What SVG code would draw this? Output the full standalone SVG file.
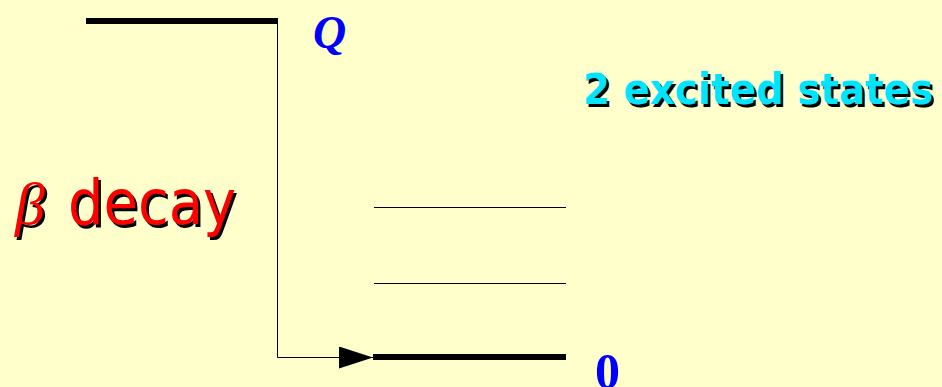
<svg xmlns="http://www.w3.org/2000/svg" width="942" height="387" viewBox="0 0 942 387">
<style>
.thick{stroke:#000;stroke-width:6;fill:none}
.thin{stroke:#000;stroke-width:1;fill:none}
.blue{fill:#0000FF;font-family:"Liberation Serif",serif;font-weight:bold}
.exc{font-family:"DejaVu Sans",sans-serif;font-weight:bold;font-size:43px}
.dec{font-family:"DejaVu Sans",sans-serif;font-size:62px}
.beta{font-family:"Liberation Serif",serif;font-style:italic;font-size:60px}
</style>
<defs>
<marker id="arr" markerWidth="34" markerHeight="22" refX="34" refY="11" orient="auto" markerUnits="userSpaceOnUse">
<path d="M0,0 L34,11 L0,22 Z" fill="#000"/>
</marker>
</defs>
<rect width="942" height="387" fill="#FFFFCC"/>
<g id="connectors">
<path class="thin" d="M277.5,21 V357.5 H373" marker-end="url(#arr)"/>
</g>
<g id="level-Q"><line class="thick" x1="86" y1="21" x2="278" y2="21"/>
<text class="blue" x="313" y="48" font-size="46" font-style="italic">Q</text></g>
<g id="level-1"><line class="thin" x1="374" y1="207.5" x2="566" y2="207.5"/></g>
<g id="level-2"><line class="thin" x1="374" y1="283.5" x2="566" y2="283.5"/></g>
<g id="level-0"><line class="thick" x1="373" y1="357" x2="566" y2="357"/>
<text class="blue" x="595" y="388" font-size="50">0</text></g>
<g id="label-excited">
<text class="exc" x="585.5" y="106.5" fill="#000" textLength="350" lengthAdjust="spacingAndGlyphs">2 excited states</text>
<text class="exc" x="583" y="104" fill="#00E5FF" textLength="350" lengthAdjust="spacingAndGlyphs">2 excited states</text>
</g>
<g id="label-beta">
<text class="beta" x="17.5" y="226.5" fill="#000">β</text>
<text class="beta" x="15" y="224" fill="#FF0000">β</text>
<text class="dec" x="70.5" y="226.5" fill="#000" textLength="168" lengthAdjust="spacingAndGlyphs">decay</text>
<text class="dec" x="68" y="224" fill="#FF0000" textLength="168" lengthAdjust="spacingAndGlyphs">decay</text>
</g>
</svg>
